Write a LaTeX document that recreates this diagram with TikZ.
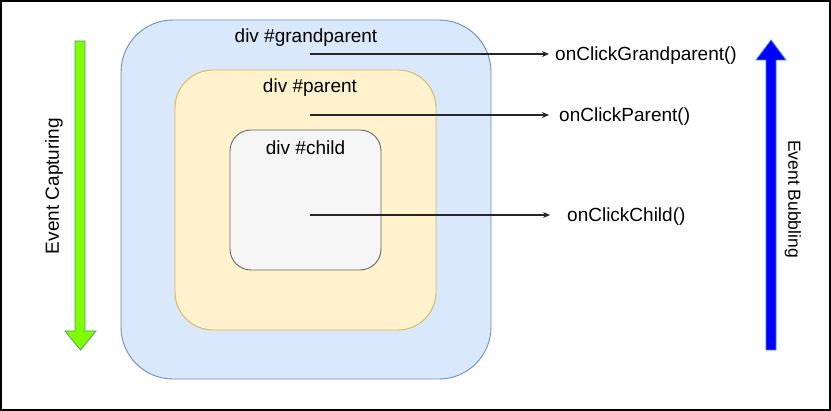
\documentclass[tikz,border=0pt]{standalone}
\usepackage{fontspec}
\setmainfont{Liberation Sans}
\usetikzlibrary{arrows.meta, positioning}
\definecolor{gpFill}{HTML}{DAE8FC}
\definecolor{gpLine}{HTML}{6C8EBF}
\definecolor{parFill}{HTML}{FFF2CC}
\definecolor{parLine}{HTML}{D6B656}
\definecolor{chdFill}{HTML}{F5F5F5}
\definecolor{chdLine}{HTML}{666666}
\definecolor{capFill}{HTML}{80FF00}
\definecolor{capLine}{HTML}{4D9A6E}
\definecolor{bubFill}{HTML}{0000FF}
\definecolor{bubLine}{HTML}{3A86D6}
\tikzset{
  divbox/.style     = {rectangle, inner sep=0pt, outer sep=0pt, line width=0.9pt},
  divlbl/.style     = {font=\fontsize{19}{22}\selectfont, inner sep=0pt},
  fnlbl/.style      = {font=\fontsize{19}{22}\selectfont, inner sep=0pt, anchor=west},
  phaselbl/.style   = {font=\fontsize{19}{22}\selectfont, inner sep=0pt},
  call/.style       = {-{Stealth[length=7pt, width=6pt]}, line width=1.2pt, black!85},
}

\begin{document}
\begin{tikzpicture}[x=1pt, y=-1pt]
\useasboundingbox (0,0) rectangle (831,411);
\draw[line width=2pt] (1,1) rectangle (830,410);

% nested divs
\node[divbox, draw=gpLine, fill=gpFill, rounded corners=52pt,
      minimum width=370pt, minimum height=359pt] (gp) at (306,199.5) {};
\node[divbox, draw=parLine, fill=parFill, rounded corners=38pt,
      minimum width=261pt, minimum height=260pt] (par) at (305.5,200) {};
\node[divbox, draw=chdLine, fill=chdFill, rounded corners=21pt,
      minimum width=151pt, minimum height=140pt] (chd) at (305.5,200) {};

\node[divlbl] (gpLbl)  at (306,37.5)    {div \#grandparent};
\node[divlbl] (parLbl) at (310,87.5)    {div \#parent};
\node[divlbl] (chdLbl) at (305.5,147.5) {div \#child};

% handlers
\coordinate (gpSrc)  at (310,54);
\coordinate (parSrc) at (310,115);
\coordinate (chdSrc) at (310,215);
\node[fnlbl] (gpFn)  at (555,56)  {onClickGrandparent()};
\node[fnlbl] (parFn) at (559,117) {onClickParent()};
\node[fnlbl] (chdFn) at (567,217) {onClickChild()};
\draw[call, shorten >=6pt]  (gpSrc)  -- (gpSrc -| gpFn.west);
\draw[call, shorten >=10pt] (parSrc) -- (parSrc -| parFn.west);
\draw[call, shorten >=17pt] (chdSrc) -- (chdSrc -| chdFn.west);

% phase arrows
\filldraw[fill=capFill, draw=capLine, line width=0.8pt]
  (75,41) -- (85,41) -- (85,331) -- (96,331) -- (80.5,350) -- (65,331) -- (75,331) -- cycle;
\filldraw[fill=bubFill, draw=bubLine, line width=0.8pt]
  (766,350) -- (776,350) -- (776,60) -- (786,60) -- (771,40) -- (756,60) -- (766,60) -- cycle;
\node[phaselbl, rotate=90] (capLbl) at (54,186) {Event Capturing};
\node[phaselbl, rotate=-90, font=\fontsize{17.5}{21}\selectfont] (bubLbl) at (793,199) {Event Bubbling};
\end{tikzpicture}
\end{document}
